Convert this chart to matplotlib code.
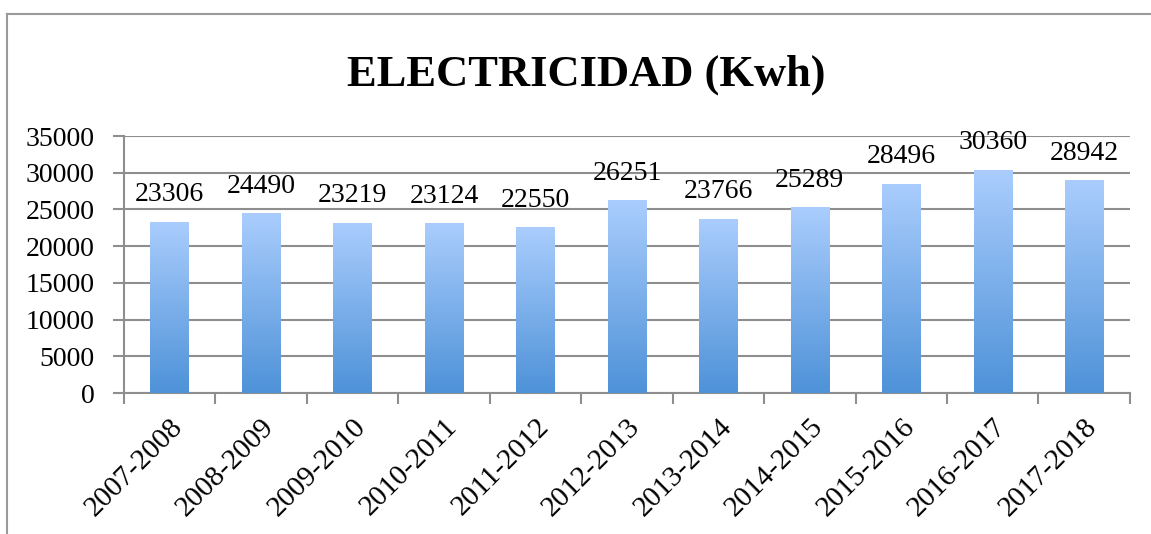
import numpy as np
import matplotlib
matplotlib.use('Agg')
import matplotlib.pyplot as plt
import matplotlib.transforms as mtrans
from matplotlib.colors import LinearSegmentedColormap
from matplotlib.lines import Line2D

periodos = ['2007-2008', '2008-2009', '2009-2010', '2010-2011', '2011-2012', '2012-2013',
            '2013-2014', '2014-2015', '2015-2016', '2016-2017', '2017-2018']
kwh = [23306, 24490, 23219, 23124, 22550, 26251, 23766, 25289, 28496, 30360, 28942]
yticks = [0, 5000, 10000, 15000, 20000, 25000, 30000, 35000]

plt.rcParams['font.family'] = ['Liberation Serif', 'DejaVu Serif']
grey = '#8e8e8e'

fig = plt.figure(figsize=(11.51, 5.34), dpi=100)
ax = fig.add_axes([0.1077, 0.2640, 0.874, 0.4813])

# outer chart border (only left/top visible in the crop)
fig.add_artist(Line2D([0.006, 0.006], [0, 0.974], color='#9a9a9a', lw=1.5, transform=fig.transFigure))
fig.add_artist(Line2D([0.006, 1.0], [0.974, 0.974], color='#9a9a9a', lw=1.5, transform=fig.transFigure))

x = np.arange(len(periodos))
bars = ax.bar(x, kwh, width=0.42, color='none', edgecolor='none', zorder=3)

# vertical gradient fill for every bar
cmap = LinearSegmentedColormap.from_list('azul', ['#4e92d8', '#aacdfd'])
grad = np.linspace(0, 1, 256).reshape(-1, 1)
for b in bars:
    x0, w, h = b.get_x(), b.get_width(), b.get_height()
    im = ax.imshow(grad, cmap=cmap, origin='lower', aspect='auto',
                   extent=[x0, x0 + w, 0, h], zorder=3)
    im.set_clip_path(b)
    ax.text(x0 + w / 2, h + 2000, str(int(h)), ha='center', va='bottom', fontsize=20, color='black')

ax.set_xlim(-0.5, len(periodos) - 0.5)
ax.set_ylim(0, 35000)
ax.set_yticks(yticks)
ax.set_yticklabels([str(v) for v in yticks], fontsize=20)
ax.set_xticks(x)
ax.set_xticklabels(periodos, rotation=45, ha='right', rotation_mode='anchor', fontsize=21)
shift = mtrans.ScaledTranslation(-4 / 100, 0, fig.dpi_scale_trans)
for lbl in ax.get_xticklabels():
    lbl.set_transform(lbl.get_transform() + shift)
ax.set_xticks(np.arange(-0.5, len(periodos)), minor=True)
ax.tick_params(axis='x', which='major', length=0, pad=15)
ax.tick_params(axis='x', which='minor', length=8, width=1.5, color=grey)
ax.tick_params(axis='y', length=8, width=1.5, color=grey, pad=13)

ax.grid(axis='y', color=grey, lw=1.5, zorder=1)
ax.set_axisbelow(True)
for s in ['top', 'right']:
    ax.spines[s].set_visible(False)
for s in ['left', 'bottom']:
    ax.spines[s].set_color(grey)
    ax.spines[s].set_linewidth(1.5)

fig.text(0.509, 0.86, 'ELECTRICIDAD (Kwh)', ha='center', va='center', fontsize=32, fontweight='bold')

plt.savefig('out.png', dpi=100)
